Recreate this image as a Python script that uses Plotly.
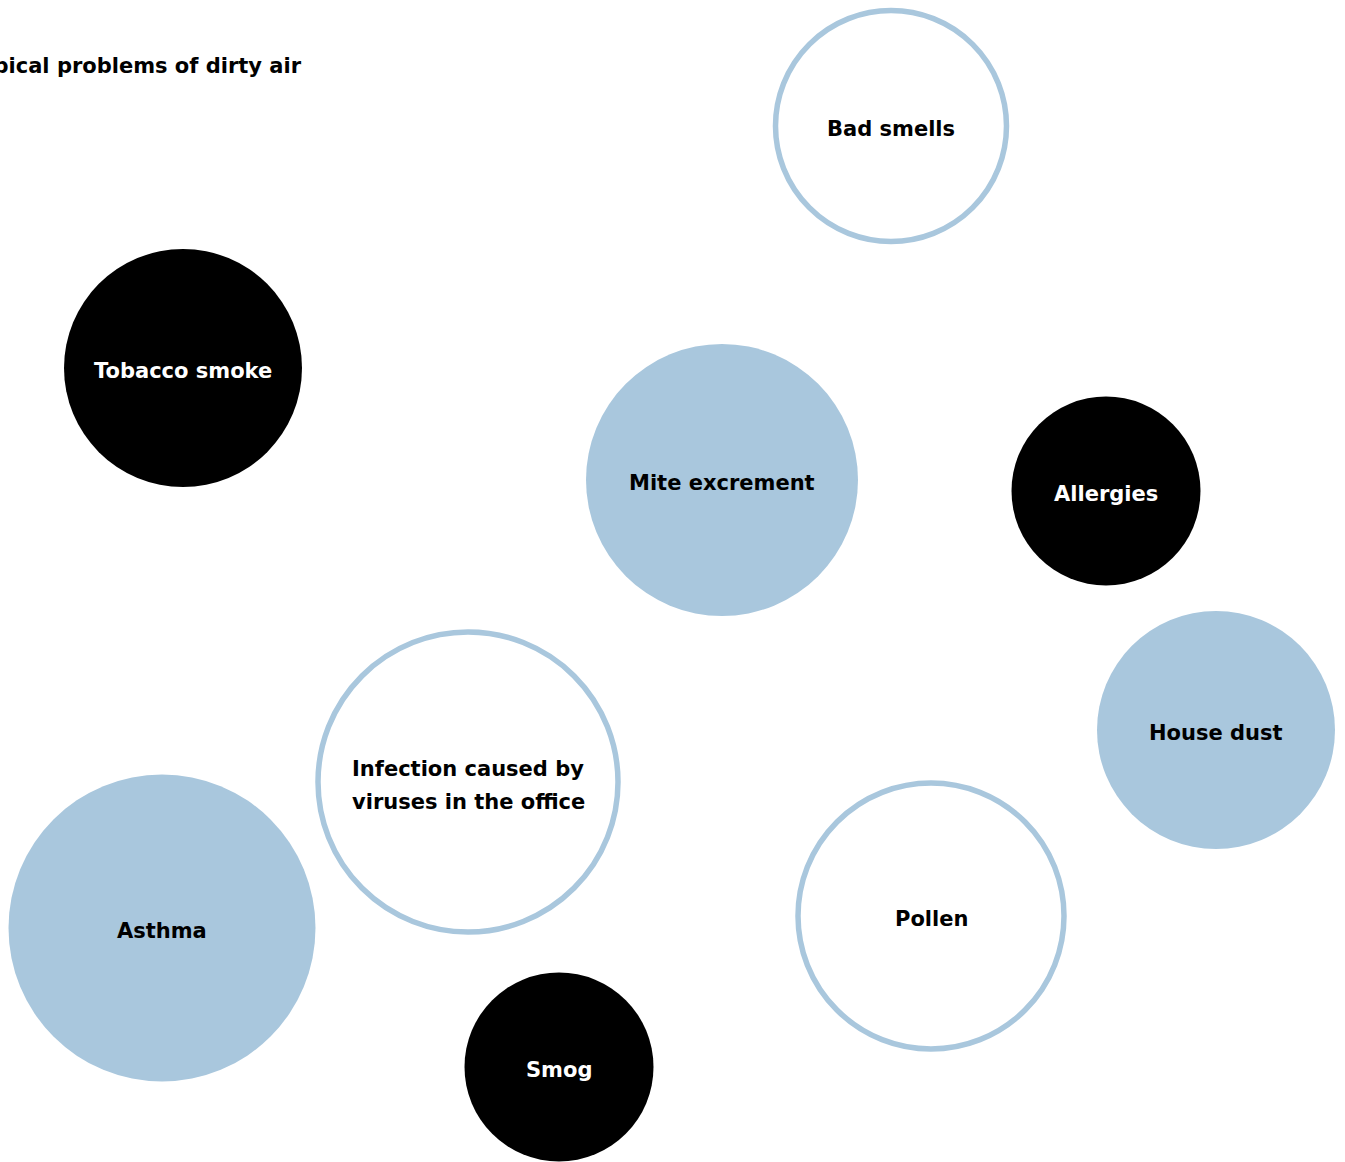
import plotly.graph_objects as go

# Data
labels = ["Bad smells", "Tobacco smoke", "Mite excrement", "Allergies", "House dust",
          "Infection caused by<br>viruses in the office", "Asthma", "Pollen", "Smog"]
x_pos = [891, 183, 722, 1106, 1216, 468, 162, 931, 559]
y_pos = [126, 368, 480, 491, 730, 782, 928, 916, 1067]
diam = [231, 238, 272, 189, 238, 300, 307, 266, 189]
style = ["outline", "dark", "blue", "dark", "blue", "outline", "blue", "outline", "dark"]
title_text = "Typical problems of dirty air"

BLUE = "#a9c7dd"
FONT = "DejaVu Sans"
fill_map = {"outline": "#ffffff", "dark": "#000000", "blue": BLUE}
line_w_map = {"outline": 5.5, "dark": 0, "blue": 0}
text_col_map = {"outline": "#000000", "dark": "#ffffff", "blue": "#000000"}

fig = go.Figure()
fig.add_trace(go.Scatter(
    x=x_pos, y=y_pos, mode="markers",
    text=[l.replace("<br>", " ") for l in labels],
    marker=dict(size=diam, sizemode="diameter",
                color=[fill_map[s] for s in style],
                line=dict(color=BLUE, width=[line_w_map[s] for s in style]),
                opacity=1),
    hoverinfo="text", cliponaxis=False, showlegend=False,
))

LINE_GAP = 33
for xi, yi, lab, st in zip(x_pos, y_pos, labels, style):
    lines = lab.split("<br>")
    n = len(lines)
    for k, ln in enumerate(lines):
        off = (k - (n - 1) / 2) * LINE_GAP
        fig.add_annotation(text=f"<b>{ln}</b>", x=xi, y=yi, xref="x", yref="y",
                           xanchor="center", yanchor="middle", showarrow=False,
                           yshift=-3 - off,
                           font=dict(family=FONT, size=21, color=text_col_map[st]))

fig.add_annotation(text=f"<b>{title_text}</b>", x=0, y=1, xref="paper", yref="paper",
                   xshift=-34, yshift=-66,
                   xanchor="left", yanchor="middle", showarrow=False,
                   font=dict(family=FONT, size=21, color="#000000"))

fig.update_layout(
    width=1345, height=1162,
    margin=dict(l=0, r=0, t=0, b=0),
    paper_bgcolor="#ffffff", plot_bgcolor="#ffffff",
    xaxis=dict(range=[0, 1345], visible=False, fixedrange=True),
    yaxis=dict(range=[1162, 0], visible=False, fixedrange=True),
)

fig.write_html("out.html", config={"displayModeBar": False},
               post_script="document.body.style.margin='0';document.body.style.overflow='hidden';")
